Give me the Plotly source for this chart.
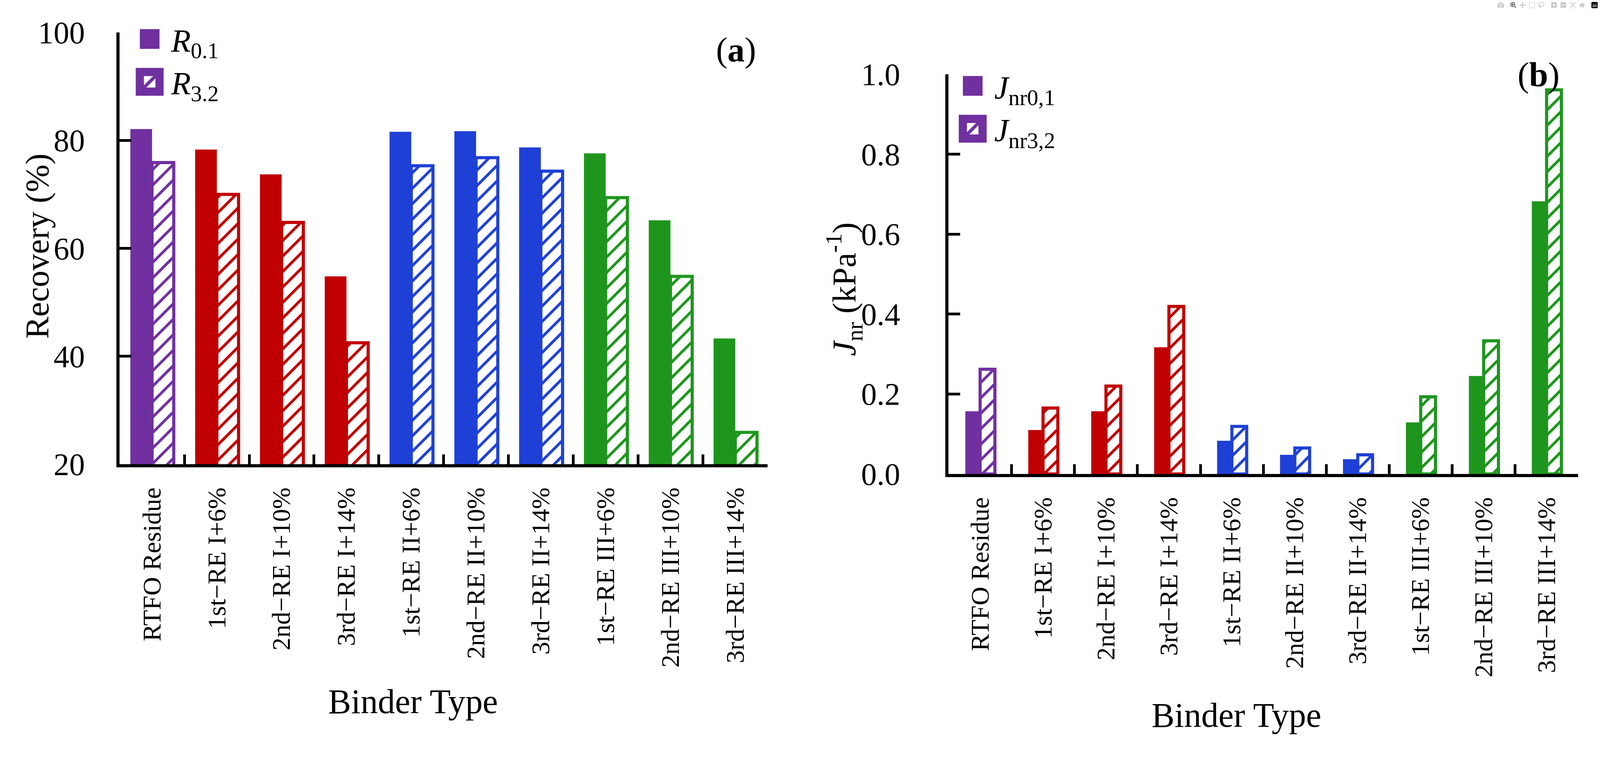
import plotly.graph_objects as go

# binder types (x categories), same for both panels
binders = ['RTFO Residue', '1st−RE I+6%', '2nd−RE I+10%', '3rd−RE I+14%',
           '1st−RE II+6%', '2nd−RE II+10%', '3rd−RE II+14%',
           '1st−RE III+6%', '2nd−RE III+10%', '3rd−RE III+14%']

# panel (a): percent recovery at 0.1 and 3.2 kPa
r01 = [82.1, 78.3, 73.7, 54.8, 81.6, 81.7, 78.7, 77.6, 65.2, 43.3]
r32 = [75.9, 70.0, 64.8, 42.5, 75.3, 76.8, 74.3, 69.4, 54.8, 25.9]

# panel (b): non-recoverable creep compliance (kPa-1)
jnr01 = [0.157, 0.110, 0.157, 0.317, 0.083, 0.048, 0.037, 0.129, 0.245, 0.682]
jnr32 = [0.262, 0.165, 0.220, 0.419, 0.119, 0.065, 0.048, 0.193, 0.333, 0.961]

ticks_a = [20, 40, 60, 80, 100]
ticks_b = [0.0, 0.2, 0.4, 0.6, 0.8, 1.0]

# one colour per binder group
purple, red, blue, green = '#7030A0', '#C00000', '#1F40D6', '#1E961E'
colors = [purple] + [red]*3 + [blue]*3 + [green]*3

font_name = 'Liberation Serif'
W, H = 4306, 1945   # reference size, used to turn pixel spots into paper fractions

fig = go.Figure()

#solid bars (low stress) and hatched bars (high stress)
def add_pair(y1, y2, name1, name2, xa, ya, leg, w):
    fig.add_trace(go.Bar(x=binders, y=y1, name=name1, xaxis=xa, yaxis=ya, legend=leg,
                         width=w, offset=-w,
                         marker=dict(color=colors, line=dict(width=0))))
    fig.add_trace(go.Bar(x=binders, y=y2, name=name2, xaxis=xa, yaxis=ya, legend=leg,
                         width=w, offset=0,
                         marker=dict(color='white', line=dict(color=colors, width=8),
                                     pattern=dict(shape='/', fgcolor=colors, bgcolor='white',
                                                  fillmode='replace', size=28, solidity=0.25))))

add_pair(r01, r32, '<i>R</i><sub>0.1</sub>', '<i>R</i><sub>3.2</sub>', 'x', 'y', 'legend', 0.335)
add_pair(jnr01, jnr32, '<i>J</i><sub>nr0,1</sub>', '<i>J</i><sub>nr3,2</sub>', 'x2', 'y2', 'legend2', 0.235)

axis_common = dict(showline=True, linecolor='black', linewidth=8, mirror=False,
                   showgrid=False, zeroline=False, ticks='inside', tickcolor='black',
                   tickwidth=7, automargin=False)
num_font = dict(family=font_name, size=80, color='black')
cat_font = dict(family=font_name, size=66, color='black')

fig.update_layout(
    autosize=True,
    margin=dict(l=0, r=0, t=0, b=0, pad=0, autoexpand=False),
    plot_bgcolor='white', paper_bgcolor='white',
    font=dict(family=font_name, color='black'),
    xaxis=dict(domain=[322/W, 2066/W], anchor='y', tickson='boundaries', ticklen=25,
               tickangle=-90, ticklabelstandoff=25, tickfont=cat_font, **axis_common),
    yaxis=dict(domain=[1-1188/H, 1-83/H], anchor='x', range=[20, 100], tickvals=ticks_a,
               ticklen=30, ticklabelstandoff=65, tickfont=num_font, **axis_common),
    xaxis2=dict(domain=[2553/W, 4247/W], anchor='y2', tickson='boundaries', ticklen=25,
                tickangle=-90, ticklabelstandoff=25, tickfont=cat_font, **axis_common),
    yaxis2=dict(domain=[1-1213/H, 1-190/H], anchor='x2', range=[0, 1.0], tickvals=ticks_b,
                tickformat='.1f', ticklen=30, ticklabelstandoff=100, tickfont=num_font,
                **axis_common),
    legend=dict(x=345/W, y=1-40/H, xanchor='left', yanchor='top', bgcolor='rgba(0,0,0,0)',
                font=dict(family=font_name, size=82), itemwidth=100, tracegroupgap=0),
    legend2=dict(x=2560/W, y=1-160/H, xanchor='left', yanchor='top', bgcolor='rgba(0,0,0,0)',
                 font=dict(family=font_name, size=82), itemwidth=100, tracegroupgap=0),
    showlegend=True,
)

# axis titles and panel labels
def label(text, px, py, size, angle=0):
    fig.add_annotation(text=text, x=px/W, y=1-py/H, xref='paper', yref='paper',
                       xanchor='center', yanchor='middle', textangle=angle,
                       showarrow=False, font=dict(size=size))

label('Recovery (%)', 100, 630, 85, -90)
label('<i>J</i><sub>nr</sub> (kPa<sup>-1</sup>)', 2272, 740, 85, -90)
label('Binder Type', 1112, 1795, 88)
label('Binder Type', 3328, 1830, 88)
label('(<b>a</b>)', 1981, 128, 88)
label('(<b>b</b>)', 4141, 191, 88)

# pin the plot to the window, then enlarge the legend swatches as in the paper figure
js = """
document.body.style.margin='0';
document.documentElement.style.overflow='hidden';
var gd = document.getElementById('{plot_id}');
gd.style.position='fixed'; gd.style.left='0'; gd.style.top='0';
gd.style.width='100vw'; gd.style.height='100vh';
function bigSwatches(){
  gd.querySelectorAll('.legendpoints path').forEach(function(p){
    var t = (p.getAttribute('transform') || '').replace(/ scale\\([^)]*\\)/g, '');
    p.setAttribute('transform', t + ' scale(4.2)');
  });
}
gd.on('plotly_afterplot', bigSwatches);
Plotly.Plots.resize(gd).then(bigSwatches);
bigSwatches();
"""
fig.write_html("out.html", post_script=js, default_width='100vw', default_height='100vh')
